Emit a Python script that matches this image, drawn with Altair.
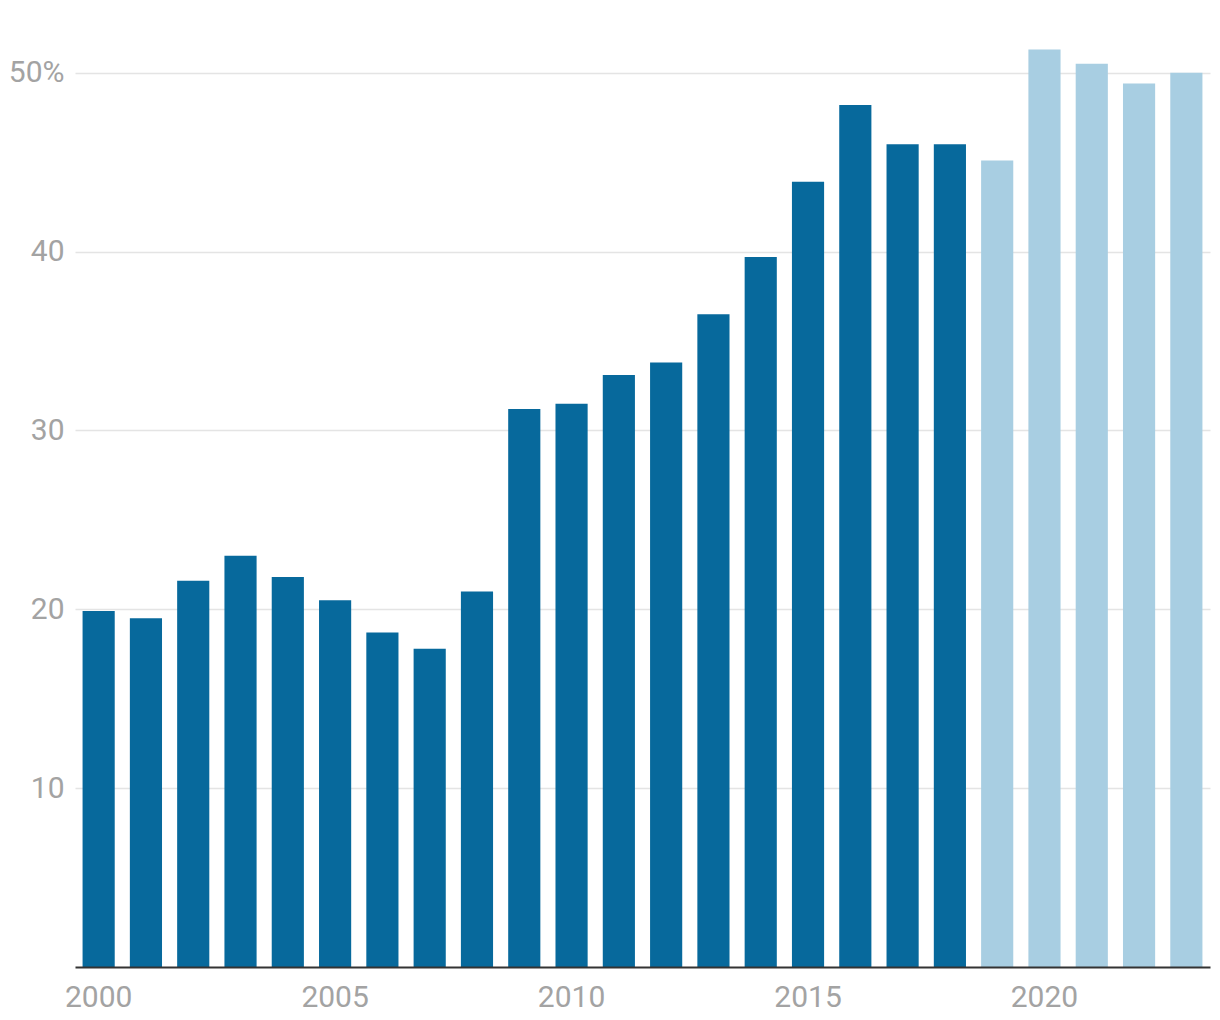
import altair as alt
import pandas as pd

years = list(range(2000, 2024))
values = [19.9, 19.5, 21.6, 23.0, 21.8, 20.5, 18.7, 17.8, 21.0, 31.2, 31.5, 33.1,
          33.8, 36.5, 39.7, 43.9, 48.2, 46.0, 46.0, 45.1, 51.3, 50.5, 49.4, 50.0]
x_ticks = [2000, 2005, 2010, 2015, 2020]
y_ticks = [10, 20, 30, 40, 50]

dark = "#07699c"
light = "#a8cee2"

df = pd.DataFrame({"year": years, "value": values})

font = "Roboto"

chart = alt.Chart(df).mark_bar().encode(
    x=alt.X("year:O",
            scale=alt.Scale(paddingInner=0.32, paddingOuter=0.16),
            axis=alt.Axis(values=x_ticks, title=None, labelAngle=0, ticks=False,
                          domain=True, domainColor="#333333", domainWidth=2,
                          labelFont=font, labelFontSize=30, labelColor="#a3a3a3",
                          labelPadding=15, labelBaseline="top", zindex=1)),
    y=alt.Y("value:Q",
            scale=alt.Scale(domain=[0, 52], nice=False),
            axis=alt.Axis(values=y_ticks, title=None, ticks=False, domain=False,
                          grid=True, gridColor="#e4e4e4", gridWidth=1.5,
                          labelFont=font, labelFontSize=30, labelColor="#a3a3a3",
                          labelPadding=11,
                          labelExpr="datum.value == 50 ? '50%' : datum.label")),
    color=alt.condition(alt.datum.year <= 2018, alt.value(dark), alt.value(light)),
).properties(
    width=1135,
    height=930,
    autosize=alt.AutoSizeParams(type="none"),
    padding={"top": 29, "left": 67, "right": 2, "bottom": 45},
).configure_view(stroke=None)

chart.save("out.html", embed_options={"renderer": "svg", "actions": False})
